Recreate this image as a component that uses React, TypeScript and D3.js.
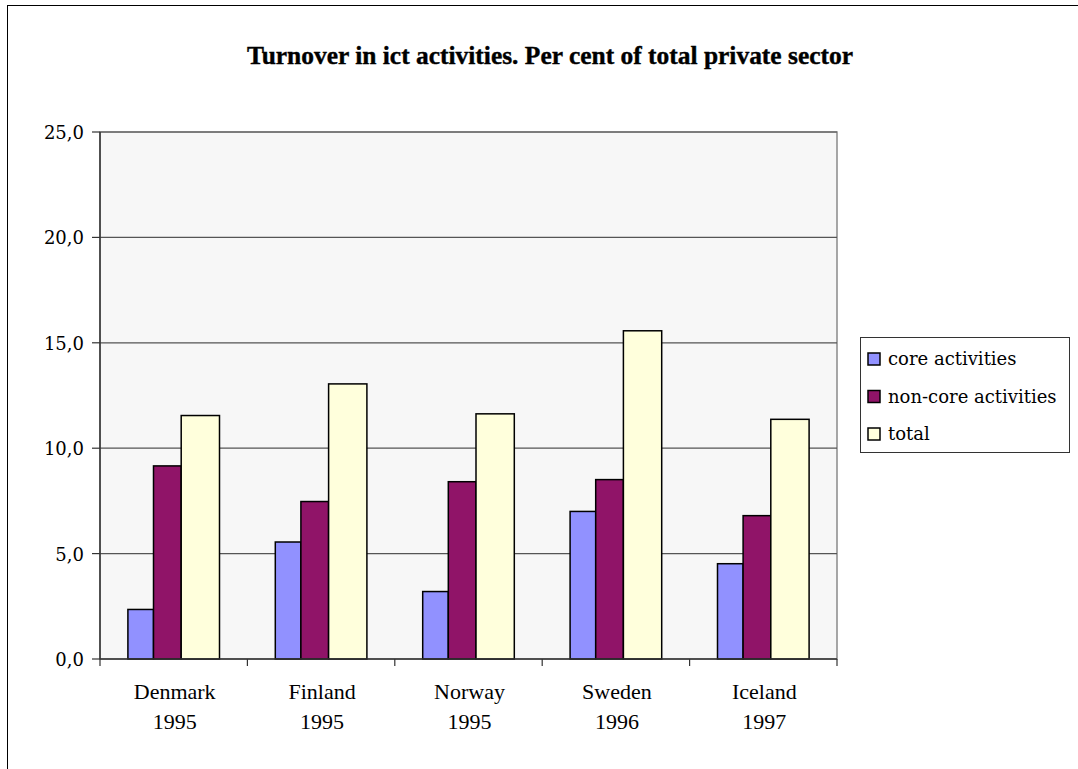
import * as d3 from "d3";

const countries = ["Denmark", "Finland", "Norway", "Sweden", "Iceland"];
const years = ["1995", "1995", "1995", "1996", "1997"];
const seriesNames = ["core activities", "non-core activities", "total"];
const coreValues = [2.35, 5.55, 3.2, 7.0, 4.52];
const nonCoreValues = [9.16, 7.47, 8.41, 8.51, 6.8];
const totalValues = [11.55, 13.05, 11.63, 15.57, 11.37];
const yTicks = [0, 5, 10, 15, 20, 25];

const colors = ["#9191ff", "#901468", "#ffffdc"];
// the original draws the three bars with slightly different widths
const barWidths = [25.6, 27.7, 38.3];

const W = 1078;
const H = 769;
const plot = { left: 100, right: 837, top: 132, bottom: 659 };

export default function App() {
  const x = d3.scaleBand().domain(countries).range([plot.left, plot.right]).padding(0);
  const y = d3.scaleLinear().domain([0, 25]).range([plot.bottom, plot.top]);
  const series = [coreValues, nonCoreValues, totalValues];
  const groupWidth = d3.sum(barWidths);
  const offsets = barWidths.map((_, i) => d3.sum(barWidths.slice(0, i)));
  const fmt = (v: number) => d3.format(".1f")(v).replace(".", ",");
  const serif = "'Liberation Serif', 'Times New Roman', serif";
  const legendFont = "'DejaVu Serif', serif";

  return (
    <svg width={W} height={H} style={{ position: "absolute", left: 0, top: 0, background: "#fff" }}>
      <rect x={7.5} y={5.5} width={W + 10} height={H + 10} fill="#fff" stroke="#000" strokeWidth={1} />

      <text
        x={550}
        y={64}
        textAnchor="middle"
        fontFamily={serif}
        fontWeight="bold"
        fontSize={26}
        textLength={606}
        lengthAdjust="spacingAndGlyphs"
        stroke="#000"
        strokeWidth={0.4}
      >
        Turnover in ict activities. Per cent of total private sector
      </text>

      <rect
        x={plot.left}
        y={plot.top}
        width={plot.right - plot.left}
        height={plot.bottom - plot.top}
        fill="#f7f7f7"
        stroke="#8a8a8a"
        strokeWidth={1.5}
      />

      {yTicks.slice(1).map((t) => (
        <line key={t} x1={plot.left} x2={plot.right} y1={y(t)} y2={y(t)} stroke="#555" strokeWidth={1.2} />
      ))}

      {countries.map((c, ci) =>
        series.map((vals, si) => {
          const x0 = x(c)! + x.bandwidth() / 2 - groupWidth / 2 + offsets[si];
          return (
            <rect
              key={c + si}
              x={x0}
              y={y(vals[ci])}
              width={barWidths[si]}
              height={y(0) - y(vals[ci])}
              fill={colors[si]}
              stroke="#000"
              strokeWidth={1.5}
            />
          );
        })
      )}

      <line x1={plot.left} x2={plot.left} y1={plot.top} y2={plot.bottom} stroke="#333" strokeWidth={1.5} />
      <line x1={plot.left} x2={plot.right} y1={plot.bottom} y2={plot.bottom} stroke="#333" strokeWidth={1.5} />

      {yTicks.map((t) => (
        <g key={t}>
          <line x1={plot.left - 8} x2={plot.left} y1={y(t)} y2={y(t)} stroke="#333" strokeWidth={1.2} />
          <text x={84} y={y(t) + 7} textAnchor="end" fontFamily={legendFont} fontSize={18} fill="#000">
            {fmt(t)}
          </text>
        </g>
      ))}

      {[...countries.map((c) => x(c)!), plot.right].map((v, i) => (
        <line key={i} x1={v} x2={v} y1={plot.bottom} y2={plot.bottom + 7} stroke="#333" strokeWidth={1.2} />
      ))}

      {countries.map((c, i) => (
        <g key={c}>
          <text x={x(c)! + x.bandwidth() / 2 + 1} y={699} textAnchor="middle" fontFamily={serif} fontSize={22}>
            {c}
          </text>
          <text x={x(c)! + x.bandwidth() / 2 + 1} y={729} textAnchor="middle" fontFamily={serif} fontSize={22}>
            {years[i]}
          </text>
        </g>
      ))}

      <rect x={860.5} y={337.5} width={209} height={115} fill="#fff" stroke="#333" strokeWidth={1} />
      {seriesNames.map((s, i) => (
        <g key={s}>
          <rect x={868} y={353 + i * 37.5} width={12} height={12} fill={colors[i]} stroke="#000" strokeWidth={1.5} />
          <text x={888} y={365 + i * 37.5} fontFamily={legendFont} fontSize={18}>
            {s}
          </text>
        </g>
      ))}
    </svg>
  );
}
